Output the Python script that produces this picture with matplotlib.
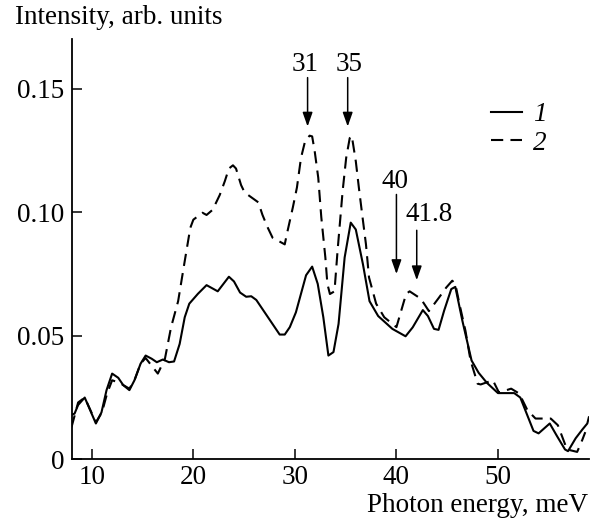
import matplotlib
matplotlib.use("Agg")
import matplotlib.pyplot as plt

# === Data ===
energy_1 = [8.0, 8.3, 8.65, 9.3, 10.4, 10.95, 11.45, 12.0, 12.6, 13.1,
            13.7, 14.2, 14.8, 15.3, 15.9, 16.4, 17.0, 17.6, 18.1, 18.65,
            19.15, 19.6, 20.45, 21.3, 22.4, 23.5, 24.0, 24.6, 25.2, 25.7,
            26.2, 28.5, 29.0, 29.5, 30.1, 31.1, 31.7, 32.25, 32.8, 33.3,
            33.8, 34.3, 34.9, 35.5, 36.0, 36.7, 37.35, 38.2, 39.6, 40.9,
            41.6, 42.6, 43.1, 43.7, 44.15, 44.7, 45.4, 45.8, 46.5, 47.4,
            48.1, 48.9, 50.0, 51.6, 52.2, 53.5, 54.0, 55.1, 55.8, 56.6,
            56.9, 57.65, 58.3, 58.8, 58.95]
intensity_1 = [0.018, 0.0185, 0.022, 0.025, 0.0145, 0.019, 0.028, 0.0347, 0.033, 0.030,
               0.028, 0.032, 0.0387, 0.042, 0.0407, 0.0393, 0.0404, 0.0393, 0.0396, 0.0467,
               0.0575, 0.063, 0.067, 0.0705, 0.068, 0.0739, 0.072, 0.0675, 0.0658, 0.066,
               0.0645, 0.0505, 0.0505, 0.0535, 0.0595, 0.0745, 0.078, 0.071, 0.0575, 0.042,
               0.0434, 0.0548, 0.0817, 0.0958, 0.093, 0.079, 0.064, 0.058, 0.0528, 0.0498,
               0.0534, 0.0604, 0.058, 0.0528, 0.0524, 0.0602, 0.0689, 0.0698, 0.056, 0.040,
               0.035, 0.031, 0.0268, 0.0268, 0.025, 0.0115, 0.0105, 0.0145, 0.0095, 0.004,
               0.0033, 0.0085, 0.012, 0.0145, 0.017]

energy_2 = [8.0, 8.65, 9.3, 10.4, 11.0, 11.5, 12.0, 12.7, 13.7, 14.2,
            14.8, 15.3, 16.0, 16.5, 17.2, 17.8, 18.5, 19.1, 19.7, 20.0,
            20.9, 21.3, 21.9, 22.6, 23.1, 23.5, 23.9, 24.2, 24.7, 25.05,
            26.4, 26.8, 27.3, 27.8, 29.0, 29.2, 29.8, 30.2, 30.6, 31.0,
            31.45, 31.7, 31.95, 32.3, 32.6, 33.0, 33.2, 33.45, 33.9, 34.2,
            34.7, 35.05, 35.4, 35.6, 36.0, 36.3, 36.6, 37.0, 37.3, 38.0,
            38.8, 40.0, 40.95, 41.3, 42.4, 43.2, 44.2, 44.9, 45.5, 45.8,
            46.2, 46.8, 47.3, 48.0, 48.3, 49.5, 50.1, 51.3, 52.1, 52.9,
            53.7, 55.2, 55.9, 56.8, 57.8, 58.3, 58.6]
intensity_2 = [0.013, 0.023, 0.025, 0.015, 0.019, 0.0266, 0.032, 0.031, 0.0286, 0.032,
               0.0387, 0.041, 0.0373, 0.0347, 0.0407, 0.0534, 0.064, 0.079, 0.0937, 0.097,
               0.0998, 0.0989, 0.101, 0.107, 0.1126, 0.1177, 0.119, 0.1177, 0.111, 0.108,
               0.104, 0.099, 0.094, 0.0897, 0.087, 0.091, 0.102, 0.11, 0.122, 0.1287,
               0.131, 0.1307, 0.1247, 0.114, 0.098, 0.0817, 0.071, 0.0669, 0.068, 0.0843,
               0.1085, 0.122, 0.130, 0.131, 0.1206, 0.11, 0.100, 0.087, 0.0736, 0.063,
               0.0575, 0.0535, 0.0669, 0.068, 0.065, 0.060, 0.0655, 0.0695, 0.0723, 0.071,
               0.063, 0.052, 0.040, 0.0306, 0.0303, 0.032, 0.027, 0.0286, 0.0266, 0.0199,
               0.0165, 0.0165, 0.0138, 0.004, 0.003, 0.0078, 0.011]

# arrows: label, arrow x, arrow top, arrow tip, label x, label y
peak_labels = ["31", "35", "40", "41.8"]
peak_x = [31.25, 35.2, 40.0, 42.0]
peak_top = [0.1545, 0.1545, 0.1072, 0.0927]
peak_tip = [0.1347, 0.1347, 0.075, 0.0725]
label_x = [31.05, 35.35, 39.9, 43.2]
label_y = [0.160, 0.160, 0.1126, 0.0989]

x_ticks = [10, 20, 30, 40, 50]
y_ticks = [0, 0.05, 0.10, 0.15]
y_tick_labels = ["0", "0.05", "0.10", "0.15"]

plt.rcParams.update({
    "font.family": "serif",
    "font.serif": ["Liberation Serif", "DejaVu Serif"],
    "lines.scale_dashes": False,
})
FS = 19.5

fig = plt.figure(figsize=(6.01, 5.20), dpi=100)
ax = fig.add_axes([0.119, 0.1167, 0.8616, 0.8077])

dash = (0, (8.8, 5.2))
ax.plot(energy_1, intensity_1, color="black", lw=1.5, label="1")
ax.plot(energy_2, intensity_2, color="black", lw=1.5, linestyle=dash, label="2")

for lab, xa, yt, yb, lx, ly in zip(peak_labels, peak_x, peak_top, peak_tip, label_x, label_y):
    ax.annotate("", xy=(xa, yb), xytext=(xa, yt),
                arrowprops=dict(arrowstyle="-|>,head_length=0.85,head_width=0.3",
                                color="black", lw=1.1, shrinkA=0, shrinkB=0))
    ax.text(lx, ly, lab, ha="center", va="center", fontsize=FS)

ax.set_xlim(8, 59)
ax.set_ylim(0, 0.17)
ax.set_xticks(x_ticks)
ax.set_yticks(y_ticks)
ax.set_yticklabels(y_tick_labels)
ax.tick_params(direction="in", length=7, width=1.1, labelsize=FS, pad=5)
ax.tick_params(axis="x", pad=4)
for side in ["top", "right"]:
    ax.spines[side].set_visible(False)
for side in ["left", "bottom"]:
    ax.spines[side].set_linewidth(1.3)

ax.legend(loc="upper left", bbox_to_anchor=(0.81, 0.85), frameon=False,
          handlelength=1.15, handletextpad=0.4, labelspacing=0.12,
          borderpad=0, borderaxespad=0,
          prop={"style": "italic", "size": FS})

fig.text(15 / 601, 1 - 17 / 520, "Intensity, arb. units", fontsize=FS, ha="left", va="center")
fig.text(588 / 601, 1 - 505 / 520, "Photon energy, meV", fontsize=FS, ha="right", va="center")

fig.savefig("out.png", dpi=100)
